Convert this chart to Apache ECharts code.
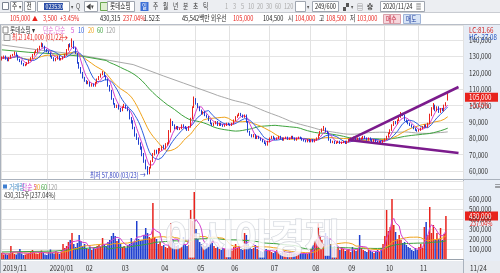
<!DOCTYPE html>
<html><head><meta charset="utf-8">
<script src="https://cdn.jsdelivr.net/npm/echarts@6/dist/echarts.min.js"></script>
<style>html,body{margin:0;padding:0;background:#fff}#c{width:500px;height:273px}</style>
</head><body><div id="c"></div>
<script>
// ---------- DATA (prices in thousand won, volume in thousand shares) ----------
const N_SLOTS = 257;
const monthIdx = [0,26,46,66,88,108,127,149,172,192,213,232];
const monthLabels = ['2019/11','2020/01','02','03','04','05','06','07','08','09','10','11'];
const priceTicks = [60,70,80,90,100,110,120,130,140];
const volTicks = [100,200,300,400,500,600];

const openK = [128,129,130,128.5,127.5,129,130.5,131,132,130.5,128,127,125.5,124.5,125,126,127.5,129,131,132.5,133,134.5,136,137.5,136,134,
133,132,130,129,127.5,128.5,130,128,128.5,129.5,131,134,137,136,139,135,132,126,123,120,
117,115,113.5,114,112,113,112,114,116,117.5,119,120,118,116,112,109,104,101,99,100,
98,97,99,100,98.5,97,92,90,86,82,80,77,74,70,66,62,58.5,62,66,70,72,71,
73,73,75,74,76,77,84,90,88,86,87,85.5,86,88,87,86,85,87,92,99,
104,101,99,97,95,96,94,93,91,89,88,89,90,88,89,88,87.5,88,89,
88.5,88,89,91,93,94,95,94,93,94,90,84,82,81,82,80,81,80,79,78,77,76,
78,80,81,80,79.5,80,81,80,79,80,80.5,79.5,80,81,80,79,80,80.5,80,79,78.5,78,79,
78,79,78,79,80,82,84,85,86,84,83,79,77.5,78,77,77.5,78,77,77.5,78,
77,78,79,80,79,80.5,79,80,79.5,80,81,80,79,80,79,78,79,78,77.5,78,77,
78.5,79.5,81,83,85,88,90,89,91,93,95,94,91,90,89,88,87,86,85,
84.5,85,86,87,88,87,89,94,98,100,97,99,96,98,97,100,104];

const closeK = [129,130,128.5,127.5,129,130.5,131,132,130.5,128,127,125.5,124.5,125,126,127.5,129,131,132.5,133,134.5,136,137.5,136,134,133,
132,130,129,127.5,128.5,130,128,128.5,129.5,131,134,137,136,139,135,132,126,123,120,117,
115,113.5,114,112,113,112,114,116,117.5,119,120,118,116,112,109,104,101,99,100,98,
97,99,100,98.5,97,92,90,86,82,80,77,74,70,66,62,58.5,62,66,70,72,71,73,
73,75,74,76,77,84,90,88,86,87,85.5,86,88,87,86,85,87,92,99,104,
101,99,97,95,96,94,93,91,89,88,89,90,88,89,88,87.5,88,89,88.5,
88,89,91,93,94,95,94,93,94,90,84,82,81,82,80,81,80,79,78,77,76,78,
80,81,80,79.5,80,81,80,79,80,80.5,79.5,80,81,80,79,80,80.5,80,79,78.5,78,79,78,
79,78,79,80,82,84,85,86,84,83,79,77.5,78,77,77.5,78,77,77.5,78,77,
78,79,80,79,80.5,79,80,79.5,80,81,80,79,80,79,78,79,78,77.5,78,77,78.5,
79.5,81,83,85,88,90,89,91,93,95,94,91,90,89,88,87,86,85,84.5,
85,86,87,88,87,89,94,98,100,97,99,96,98,97,100,101.5,105];

const highK = [130,130.5,130.5,129,129.5,131,131.5,133,132.5,131,128.5,127.5,126,125.5,126.5,128,129.5,131.5,133,134,135,136.5,138.5,138,136.5,134.5,
133.5,132.5,130.5,129.5,129,130.5,130.5,129,130,131.5,134.5,137.5,138,141,139.5,135.5,132,126.5,123.5,120.5,
117.5,115.5,115,114.5,113.5,113.5,114.5,116.5,118,119.5,121,120.5,118.5,116.5,112.5,109.5,104.5,101.5,100.5,100.5,
98.5,99.5,101,100.5,99,97.5,93,91,87,83,80.5,77.5,75,71,67,63,62.5,66.5,71,73,73,74,
74,75.5,76,77,77.5,85,92,90.5,88.5,87.5,87.5,86.5,88.5,88.5,87.5,86.5,87.5,92.5,99.5,105.5,
104.5,101.5,99.5,97.5,96.5,96.5,94.5,93.5,91.5,89.5,89.5,90.5,90.5,89.5,89.5,88.5,88.5,89.5,89.5,
89,89.5,91.5,93.5,94.5,95.5,95.5,94.5,94.5,94.5,90.5,84.5,82.5,82.5,82.5,81.5,81.5,80.5,79.5,78.5,77.5,78.5,
80.5,81.5,81.5,80.5,80.5,81.5,81.5,80.5,80.5,81,81,80.5,81.5,81.5,80.5,80.5,81,81,80.5,79.5,79,79.5,79.5,
79.5,79.5,79.5,80.5,82.5,84.5,86,87.5,86.5,84.5,83.5,79.5,78.5,78.5,78,78.5,78.5,78,78.5,78.5,
78.5,79.5,80.5,80.5,81,81,80.5,80.5,80.5,81.5,81.5,80.5,80.5,80.5,79.5,79.5,79.5,78.5,78.5,78.5,79,
80,81.5,83.5,85.5,88.5,90.5,90.5,91.5,93.5,96,95.5,94.5,91.5,90.5,89.5,88.5,87.5,86.5,85.5,
85.5,86.5,87.5,88.5,88.5,89.5,95,99,101.5,100.5,99.5,99.5,98.5,98.5,100.5,102,108.5];

const lowK = [127.5,128.5,128,127,127,128.5,130,130.5,130,127.5,126.5,125,124,124,124.5,125.5,127,128.5,130.5,132,132.5,134,135.5,135.5,133.5,132.5,
131.5,129.5,128.5,127,127,128,127.5,127.5,128,129,130.5,133.5,135.5,135.5,134.5,131.5,125.5,122.5,119.5,116.5,
114.5,113,113,111.5,111.5,111.5,111.5,113.5,115.5,117,118.5,117.5,115.5,111.5,108.5,103.5,100.5,98.5,98.5,97.5,
96,96.5,98.5,98,96.5,91.5,89,85.5,81,79,76,73,69,65,61,57.8,58,61.5,65.5,69.5,70.5,70.5,
72,72.5,73.5,73.5,75.5,76.5,83.5,87.5,85.5,85.5,85,85,85.5,86.5,85.5,84.5,84.5,86.5,91.5,98.5,
100.5,98.5,96.5,94.5,94.5,93.5,92.5,90.5,88.5,87.5,87.5,88.5,87.5,87.5,87.5,87,87,87.5,88,
87.5,87.5,88.5,90.5,92.5,93.5,93.5,92.5,92.5,89.5,83.5,81.5,80.5,80.5,79.5,79.5,79.5,78.5,77.5,76.5,75.5,75.5,
77.5,79.5,79.5,79,79,79.5,79.5,78.5,78.5,79.5,79,79,79.5,79.5,78.5,78.5,79.5,79.5,78.5,78,77.5,77.5,77.5,
77.5,77.5,77.5,78.5,79.5,81.5,83.5,84.5,83.5,82.5,78.5,77,77,76.5,76.5,77,76.5,76.5,77,76.5,
76.5,77.5,78.5,78.5,78.5,78.5,78.5,79,79,79.5,79.5,78.5,78.5,78.5,77.5,77.5,77.5,77,77,76.5,76.5,
78,79,80.5,82.5,84.5,87.5,88.5,88.5,90.5,92.5,93.5,90.5,89.5,88.5,87.5,86.5,85.5,84.5,84,
84,84.5,85.5,86.5,86.5,86.5,88.5,93.5,97.5,96.5,96.5,95.5,95.5,96.5,96.5,99.5,103];

const volK = [60,45,50,40,55,130,70,50,45,60,100,55,40,45,50,60,75,90,65,55,50,70,85,60,45,40,
70,95,60,55,80,65,50,70,150,110,130,170,190,260,150,120,160,240,180,130,
150,110,100,120,90,110,100,130,140,120,210,150,130,170,190,230,260,230,180,200,
150,120,130,110,140,150,210,170,180,380,200,180,190,240,310,260,220,200,560,220,200,150,
170,130,140,120,110,180,360,200,150,130,140,110,120,220,150,130,140,490,380,670,
300,200,170,150,140,130,160,120,290,160,130,110,120,100,90,110,100,90,95,
100,85,120,150,110,130,100,90,260,240,150,120,100,110,140,100,90,80,70,80,100,
90,80,70,60,80,90,70,60,70,80,60,50,70,60,55,60,50,60,55,50,60,55,50,
60,100,140,180,200,360,240,190,150,260,230,200,150,120,130,100,110,90,120,100,
80,90,100,70,120,90,80,100,240,110,90,80,70,90,80,70,60,80,90,70,110,
150,230,490,280,320,600,340,270,200,240,190,160,170,140,120,110,90,80,110,
90,120,150,110,320,370,240,520,260,340,190,260,200,310,190,250,430];

const ma60Read = [[0,134],[15,132.5],[30,131.5],[45,130],[58,127.5]];
const ma120Read = [[0,137],[20,134],[40,131.5],[60,127.5],[73,125],[90,118],[101,113.7],[118,107]];
const volMa60Read = [[0,70],[30,80],[58,125]];
// trend lines drawn on the chart: [category index, price in thousand won]
const trendUpper = [[193,78.9],[254,111.3]];
const trendLower = [[193,78.9],[254,71]];

// ---------- BUILD ----------
const K = 1000;
const cats = []; for (let i = 0; i < N_SLOTS; i++) cats.push(String(i));
const candle = closeK.map((c, i) => [openK[i]*K, c*K, lowK[i]*K, highK[i]*K]);
function movAvg(arr, n, full) {
  return arr.map((_, i) => {
    if (full && i < n - 1) return null;
    const s = Math.max(0, i - n + 1); let t = 0;
    for (let j = s; j <= i; j++) t += arr[j];
    return t / (i - s + 1);
  });
}
function withRead(arr, n, read, scale) {
  const out = movAvg(arr, n, true).map(v => v == null ? null : v * scale);
  read.forEach(([i, v]) => { out[i] = v * scale; });
  return out;
}
const ma5 = movAvg(closeK, 5).map(v => v*K);
const ma10 = movAvg(closeK, 10).map(v => v*K);
const ma20 = movAvg(closeK, 20).map(v => v*K);
const ma60 = withRead(closeK, 60, ma60Read, K);
const ma120 = withRead(closeK, 120, ma120Read, K);
const UP = '#e8231d', DOWN = '#1f3fcf';
const vol = volK.map((v, i) => ({ value: v*K, itemStyle: { color: closeK[i] >= openK[i] ? UP : DOWN } }));
const vma5 = movAvg(volK, 5).map(v => v*K);
const vma20 = movAvg(volK, 20).map(v => v*K);
const vma60 = withRead(volK, 60, volMa60Read, K);

const FONT = '"Noto Sans CJK KR", "Liberation Sans", sans-serif';
const fmt = v => Math.round(v).toLocaleString('en-US');
const isMonth = i => monthIdx.indexOf(i) >= 0;

const lineS = (name, data, color, xi, yi) => ({
  name, type: 'line', data, xAxisIndex: xi, yAxisIndex: yi, symbol: 'none', connectNulls: true,
  lineStyle: { color, width: 1 }, silent: true, z: 3
});

// narrow-looking text (the terminal uses a small condensed font)
function T(x, y, text, color, size, extra, sx) {
  return { type: 'text', x, y, z: 100, scaleX: sx == null ? 0.75 : sx,
    style: Object.assign({ text, fill: color || '#222', font: (size || 7) + 'px ' + FONT, textVerticalAlign: 'middle' }, extra || {}) };
}
function R(x, y, w, h, fill, stroke, z) {
  return { type: 'rect', z: z == null ? -5 : z, shape: { x, y, width: w, height: h }, style: { fill, stroke: stroke || null, lineWidth: 1 } };
}

const chart = echarts.init(document.getElementById('c'), null, { width: 500, height: 273 });
const option = {
  animation: false,
  backgroundColor: '#ffffff',
  grid: [
    { left: 1, right: 37, top: 25, height: 154.2 },
    { left: 1, right: 37, top: 181, bottom: 14 }
  ],
  xAxis: [
    { type: 'category', gridIndex: 0, data: cats, boundaryGap: true,
      axisLine: { show: false }, axisTick: { show: false }, axisLabel: { show: false },
      splitLine: { show: true, interval: (i) => isMonth(i), lineStyle: { color: '#e2e2e2', width: 1 } } },
    { type: 'category', gridIndex: 1, data: cats, boundaryGap: true,
      axisLine: { show: true, lineStyle: { color: '#9aa3ad' } }, axisTick: { show: false }, axisLabel: { show: false },
      splitLine: { show: true, interval: (i) => isMonth(i), lineStyle: { color: '#e2e2e2', width: 1 } } }
  ],
  yAxis: [
    { type: 'value', gridIndex: 0, position: 'right', min: 55000, max: 149160, interval: 5000,
      axisLine: { show: false }, axisTick: { show: false }, axisLabel: { show: false },
      splitLine: { show: true, lineStyle: { color: ['rgba(0,0,0,0)', '#e4e4e4'], width: 1 } } },
    { type: 'value', gridIndex: 1, position: 'right', min: 0, max: 780000, interval: 100000,
      axisLine: { show: false }, axisTick: { show: false }, axisLabel: { show: false },
      splitLine: { show: true, lineStyle: { color: '#e4e4e4', width: 1 } } }
  ],
  series: [
    { name: 'price', type: 'candlestick', data: candle, xAxisIndex: 0, yAxisIndex: 0, barWidth: 1.3, z: 4,
      itemStyle: { color: UP, color0: DOWN, borderColor: UP, borderColor0: DOWN, borderWidth: 1 },
      markLine: { silent: true, symbol: ['none', 'none'], label: { show: false },
        lineStyle: { color: '#7b1b8c', width: 2.6, type: 'solid' },
        data: [
          [{ coord: [trendUpper[0][0], trendUpper[0][1]*K] }, { coord: [trendUpper[1][0], trendUpper[1][1]*K] }],
          [{ coord: [trendLower[0][0], trendLower[0][1]*K] }, { coord: [trendLower[1][0], trendLower[1][1]*K] }]
        ] } },
    lineS('MA120', ma120, '#a9a9a9', 0, 0),
    lineS('MA60', ma60, '#3da33d', 0, 0),
    lineS('MA20', ma20, '#f0a31a', 0, 0),
    lineS('MA10', ma10, '#2f5fe0', 0, 0),
    lineS('MA5', ma5, '#d43fd0', 0, 0),
    { name: 'volume', type: 'bar', data: vol, xAxisIndex: 1, yAxisIndex: 1, barWidth: 1.5, z: 2 },
    lineS('VMA60', vma60, '#3da33d', 1, 1),
    lineS('VMA20', vma20, '#f0a31a', 1, 1),
    lineS('VMA5', vma5, '#d43fd0', 1, 1)
  ]
};
chart.setOption(option);

// ---------- axis labels placed through the chart's own scales ----------
const g = [];
priceTicks.forEach(v => {
  const y = chart.convertToPixel({ yAxisIndex: 0 }, v * K);
  g.push(T(469, y, fmt(v * K), '#333', 8, null, 0.78));
});
volTicks.forEach(v => {
  const y = chart.convertToPixel({ yAxisIndex: 1 }, v * K);
  g.push(T(469, y, fmt(v * K), '#333', 8, null, 0.78));
});
const bandW = chart.convertToPixel({ xAxisIndex: 1 }, '1') - chart.convertToPixel({ xAxisIndex: 1 }, '0');
monthIdx.forEach((idx, k) => {
  const x = chart.convertToPixel({ xAxisIndex: 1 }, String(idx)) - bandW / 2 + 2;
  g.push(T(x, 267.5, monthLabels[k], '#333', 8, null, 0.8));
});

// ---------- chrome & annotation text ----------
const yLast = chart.convertToPixel({ yAxisIndex: 0 }, closeK[closeK.length-1]*K);
const yVol = chart.convertToPixel({ yAxisIndex: 1 }, volK[volK.length-1]*K);
const pLow = chart.convertToPixel({ xAxisIndex: 0, yAxisIndex: 0 }, [81, 57800]);
const pHigh = chart.convertToPixel({ xAxisIndex: 0, yAxisIndex: 0 }, [39, 141000]);
g.push(
  // toolbar row 1
  R(0, 0, 500, 13, '#eceef2', null, -5),
  R(0, 13, 500, 11, '#ffffff', null, -5),
  { type: 'line', z: -4, shape: { x1: 0, y1: 12.5, x2: 500, y2: 12.5 }, style: { stroke: '#c9ccd2' } },
  { type: 'line', z: -4, shape: { x1: 0, y1: 24.5, x2: 500, y2: 24.5 }, style: { stroke: '#b8bec8' } },
  R(2.5, 2.5, 6, 7, '#ffffff', '#7a8290', 10),
  R(10.5, 1.5, 12, 10, '#ffffff', '#a0a6b0', 10), T(12, 6.5, '주', '#222', 7.5), T(18.5, 6.5, '▾', '#555', 6),
  R(24.5, 1.5, 11, 10, '#ffffff', '#a0a6b0', 10), T(26.5, 6.5, '전', '#222', 7.5),
  R(37.5, 1.5, 32, 10, '#ffffff', '#a0a6b0', 10), R(44, 3, 19, 7, '#2b4ea8', null, 11), T(45.5, 6.5, '023530', '#ffffff', 7),
  T(71, 6.5, '▾', '#555', 6), T(76, 6.5, 'Q', '#555', 7.5), R(84.5, 1.5, 13, 10, '#ffffff', '#a0a6b0', 10), T(86, 6.5, '◀▾', '#444', 7),
  R(100.5, 2.5, 7, 8, '#dff0d0', '#6aa84f', 10),
  R(107.5, 1.5, 27, 10, '#ffffff', '#a0a6b0', 10), T(110, 6.5, '롯데쇼핑', '#222', 7.5),
  R(140.5, 2, 8, 9, '#3c6fd6', null, 10), T(142, 6.5, '일', '#ffffff', 7),
  T(153, 6.5, '주', '#333', 7.5), T(163, 6.5, '월', '#333', 7.5), T(173, 6.5, '년', '#333', 7.5),
  T(183, 6.5, '분', '#333', 7.5), T(193, 6.5, '초', '#333', 7.5), T(203, 6.5, '틱', '#333', 7.5),
  T(225, 6.5, '1', '#aaa', 7.5), T(233, 6.5, '3', '#aaa', 7.5), T(241, 6.5, '5', '#aaa', 7.5), T(248, 6.5, '10', '#aaa', 7.5),
  T(257, 6.5, '20', '#aaa', 7.5), T(266, 6.5, '30', '#aaa', 7.5), T(275, 6.5, '60', '#aaa', 7.5), T(284, 6.5, '120', '#aaa', 7.5),
  R(295.5, 1.5, 10, 10, '#ffffff', '#a0a6b0', 10), T(307, 6.5, '▾', '#555', 6),
  R(312.5, 1.5, 26, 10, '#ffffff', '#a0a6b0', 10), T(315, 6.5, '249/600', '#222', 7.5),
  T(343, 6.5, '▞', '#555', 8), T(351, 6.5, '▾', '#555', 6), T(357, 6.5, '▤', '#555', 8), T(367, 6.5, '✿', '#555', 8),
  R(380.5, 1.5, 44, 10, '#ffffff', '#a0a6b0', 10), T(383, 6.5, '2020/11/24', '#222', 7.5), T(416, 6.5, '▦', '#555', 7),
  // quote row
  T(10, 18.5, '105,000', '#e8231d', 7.5), T(32, 18.5, '▲', '#e8231d', 6.5, null, 0.9),
  T(43, 18.5, '3,500', '#e8231d', 7.5), T(60, 18.5, '+3.45%', '#e8231d', 7.5),
  T(100, 18.5, '430,315', '#222', 7.5), T(123, 18.5, '237.04%', '#e8231d', 7.5), T(144, 18.5, '1.52조', '#222', 7.5),
  T(182, 18.5, '45,542백만', '#222', 7.5), T(211, 18.5, '외우선', '#222', 7.5), T(233, 18.5, '105,000', '#e8231d', 7.5),
  T(263, 18.5, '104,500', '#222', 7.5), T(288, 18.5, '시', '#222', 7.5), T(295, 18.5, '104,000', '#e8231d', 7.5),
  T(319, 18.5, '고', '#222', 7.5), T(326, 18.5, '108,500', '#e8231d', 7.5), T(350, 18.5, '저', '#222', 7.5),
  T(357, 18.5, '103,000', '#e8231d', 7.5),
  R(383.5, 14.5, 17, 9, '#f7d6dc', '#d9a0aa', 10), T(386, 19, '매수', '#c0203a', 7.5),
  R(403.5, 14.5, 17, 9, '#d8e4f6', '#9fb4d8', 10), T(406, 19, '매도', '#2040a0', 7.5),
  // side panel & axis bar
  R(463, 25, 37, 237, '#e7edf6', null, -5),
  R(0, 261, 500, 12, '#e8ebf0', null, -5),
  { type: 'line', z: -4, shape: { x1: 0, y1: 179.5, x2: 500, y2: 179.5 }, style: { stroke: '#aab2bd' } },
  { type: 'line', z: -4, shape: { x1: 463.5, y1: 25, x2: 463.5, y2: 273 }, style: { stroke: '#aab2bd' } },
  { type: 'line', z: -4, shape: { x1: 0.5, y1: 25, x2: 0.5, y2: 273 }, style: { stroke: '#aab2bd' } },
  T(470, 267.5, '11/24', '#333', 8, null, 0.8),
  T(469, 29.5, 'LC:81.66', '#d02020', 8, null, 0.78), T(469, 36.5, 'HC:-27.08', '#2050c0', 8, null, 0.78),
  R(465, yLast - 4.5, 33, 9, '#e8231d', null, 20), T(469, yLast, fmt(closeK[closeK.length-1]*K), '#ffffff', 8, null, 0.78),
  T(470, yLast + 8, '+3.45%', '#e8231d', 7.5),
  R(465, yVol - 4.5, 33, 9, '#e8231d', null, 20), T(469, yVol, fmt(volK[volK.length-1]*K), '#ffffff', 8, null, 0.78),
  T(470, yVol + 7.5, '237.04%', '#e8231d', 7.5),
  T(494, 186, '≡', '#555', 8, null, 1),
  // legends
  R(3, 27, 5, 6, '#ffffff', '#888', 10),
  T(10, 30, '롯데쇼핑 ▾', '#333', 7.5), T(43, 30, '단순,단순', '#e070d0', 7.5), T(71, 30, '5', '#d43fd0', 7.5),
  T(78, 30, '10', '#2f5fe0', 7.5), T(88, 30, '20', '#f0a31a', 7.5), T(97, 30, '60', '#3da33d', 7.5), T(106, 30, '120', '#999', 7.5),
  R(4, 34.5, 6, 6, '#f4f4f4', '#999', 10),
  T(12, 37.5, '최고 141,000 (01/22)', '#e8231d', 7.5),
  T(pHigh[0] - 4, 37.5, '→', '#e8231d', 8, { textAlign: 'right' }, 1),
  T(pLow[0] - 2, pLow[1] + 1, '최저 57,800 (03/23) →', '#2f3fbf', 7.5, { textAlign: 'right' }),
  R(3, 184.5, 4, 4, '#3f7fd0', null, 10),
  T(9, 187, '거래량', '#4a90c8', 7.5), T(22, 187, '단순 5', '#d43fd0', 7.5), T(34, 187, '20', '#f0a31a', 7.5),
  T(41, 187, '60', '#3da33d', 7.5), T(48, 187, '120', '#999', 7.5),
  T(4, 195, '430,315주(237.04%)', '#333', 7.5),
  // watermark
  T(165, 238, '아시아경제', 'rgba(255,255,255,0.8)', 40, { font: 'bold 40px "Noto Sans CJK KR"', stroke: 'rgba(190,195,205,0.7)', lineWidth: 1.2 }, 0.95)
);
chart.setOption({ graphic: g });
</script></body></html>
